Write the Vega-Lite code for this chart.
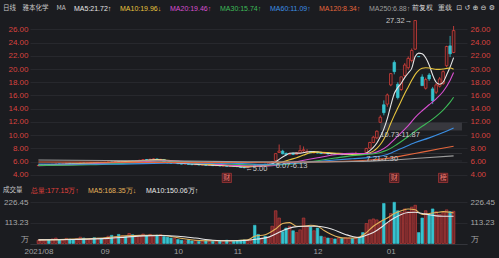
{
  "$schema": "https://vega.github.io/schema/vega-lite/v6.json",
  "width": 437,
  "height": 244,
  "autosize": {"type": "none"},
  "padding": {"left": 30, "right": 32, "top": 0, "bottom": 14},
  "background": "#1b1c20",
  "config": {
    "view": {"stroke": null},
    "font": "Liberation Sans",
    "axis": {"domain": false, "ticks": false, "labelFontSize": 8, "labelOverlap": false, "labelBound": false, "labelFont": "Liberation Sans", "gridColor": "#2b2c31", "gridWidth": 0.8},
    "legend": {"labelFont": "Liberation Sans", "titleFont": "Noto Sans CJK SC"}
  },
  "title": {"text": "前复权\u00a0\u00a0重载\u00a0\u00a0⊡\u00a0↺\u00a0⊕\u00a0⊖\u00a0⚙", "anchor": "end", "frame": "group", "dx": 28, "orient": "top", "offset": -15, "baseline": "middle", "fontSize": 7, "fontWeight": "normal", "color": "#d6d6d6", "font": "DejaVu Sans"},
  "datasets": {
    "kd": [
      {"k":0,"o":5.40,"h":5.50,"l":5.36,"c":5.45,"v":18},
      {"k":1,"o":5.45,"h":5.55,"l":5.42,"c":5.50,"v":22},
      {"k":2,"o":5.50,"h":5.60,"l":5.46,"c":5.55,"v":15},
      {"k":3,"o":5.56,"h":5.58,"l":5.47,"c":5.50,"v":20},
      {"k":4,"o":5.50,"h":5.66,"l":5.48,"c":5.62,"v":25},
      {"k":5,"o":5.62,"h":5.72,"l":5.58,"c":5.66,"v":30},
      {"k":6,"o":5.66,"h":5.68,"l":5.56,"c":5.60,"v":22},
      {"k":7,"o":5.60,"h":5.74,"l":5.58,"c":5.70,"v":18},
      {"k":8,"o":5.70,"h":5.80,"l":5.66,"c":5.76,"v":28},
      {"k":9,"o":5.76,"h":5.78,"l":5.66,"c":5.70,"v":24},
      {"k":10,"o":5.70,"h":5.72,"l":5.62,"c":5.65,"v":20},
      {"k":11,"o":5.65,"h":5.76,"l":5.63,"c":5.72,"v":26},
      {"k":12,"o":5.72,"h":5.88,"l":5.70,"c":5.82,"v":35},
      {"k":13,"o":5.82,"h":5.84,"l":5.72,"c":5.75,"v":30},
      {"k":14,"o":5.75,"h":5.84,"l":5.73,"c":5.80,"v":22},
      {"k":15,"o":5.80,"h":5.90,"l":5.78,"c":5.86,"v":25},
      {"k":16,"o":5.86,"h":5.88,"l":5.76,"c":5.80,"v":32},
      {"k":17,"o":5.80,"h":5.95,"l":5.78,"c":5.90,"v":28},
      {"k":18,"o":5.90,"h":5.93,"l":5.82,"c":5.85,"v":24},
      {"k":19,"o":5.85,"h":5.96,"l":5.83,"c":5.92,"v":30},
      {"k":20,"o":5.92,"h":6.02,"l":5.88,"c":5.96,"v":40},
      {"k":21,"o":5.96,"h":5.99,"l":5.86,"c":5.90,"v":45},
      {"k":22,"o":5.90,"h":6.06,"l":5.88,"c":6.02,"v":35},
      {"k":23,"o":6.02,"h":6.04,"l":5.92,"c":5.95,"v":50},
      {"k":24,"o":5.95,"h":6.10,"l":5.93,"c":6.06,"v":42},
      {"k":25,"o":6.06,"h":6.08,"l":5.96,"c":6.00,"v":38},
      {"k":26,"o":6.00,"h":6.18,"l":5.98,"c":6.12,"v":55},
      {"k":27,"o":6.12,"h":6.15,"l":6.02,"c":6.06,"v":48},
      {"k":28,"o":6.06,"h":6.20,"l":6.04,"c":6.16,"v":40},
      {"k":29,"o":6.16,"h":6.28,"l":6.12,"c":6.22,"v":45},
      {"k":30,"o":6.22,"h":6.40,"l":6.20,"c":6.32,"v":52},
      {"k":31,"o":6.32,"h":6.36,"l":6.22,"c":6.26,"v":44},
      {"k":32,"o":6.26,"h":6.45,"l":6.24,"c":6.36,"v":50},
      {"k":33,"o":6.36,"h":6.50,"l":6.32,"c":6.42,"v":40},
      {"k":34,"o":6.42,"h":6.46,"l":6.26,"c":6.30,"v":46},
      {"k":35,"o":6.30,"h":6.42,"l":6.28,"c":6.36,"v":48},
      {"k":36,"o":6.30,"h":6.32,"l":5.84,"c":5.88,"v":38},
      {"k":37,"o":5.88,"h":5.92,"l":5.76,"c":5.80,"v":35},
      {"k":38,"o":5.82,"h":5.84,"l":5.70,"c":5.75,"v":30},
      {"k":39,"o":5.75,"h":5.86,"l":5.73,"c":5.82,"v":28},
      {"k":40,"o":5.80,"h":5.82,"l":5.66,"c":5.70,"v":22},
      {"k":41,"o":5.70,"h":5.72,"l":5.60,"c":5.64,"v":18},
      {"k":42,"o":5.64,"h":5.74,"l":5.62,"c":5.70,"v":15},
      {"k":43,"o":5.70,"h":5.71,"l":5.56,"c":5.60,"v":20},
      {"k":44,"o":5.60,"h":5.62,"l":5.50,"c":5.54,"v":14},
      {"k":45,"o":5.54,"h":5.64,"l":5.52,"c":5.60,"v":16},
      {"k":46,"o":5.60,"h":5.61,"l":5.46,"c":5.50,"v":12},
      {"k":47,"o":5.50,"h":5.58,"l":5.48,"c":5.55,"v":15},
      {"k":48,"o":5.55,"h":5.56,"l":5.42,"c":5.45,"v":18},
      {"k":49,"o":5.45,"h":5.54,"l":5.43,"c":5.50,"v":14},
      {"k":50,"o":5.50,"h":5.51,"l":5.36,"c":5.40,"v":12},
      {"k":51,"o":5.40,"h":5.48,"l":5.38,"c":5.45,"v":16},
      {"k":52,"o":5.45,"h":5.46,"l":5.32,"c":5.35,"v":13},
      {"k":53,"o":5.35,"h":5.44,"l":5.33,"c":5.40,"v":15},
      {"k":54,"o":5.40,"h":5.41,"l":5.27,"c":5.30,"v":18},
      {"k":55,"o":5.30,"h":5.38,"l":5.28,"c":5.35,"v":14},
      {"k":56,"o":5.35,"h":5.36,"l":5.26,"c":5.30,"v":12},
      {"k":57,"o":5.30,"h":5.32,"l":5.20,"c":5.24,"v":15},
      {"k":58,"o":5.24,"h":5.26,"l":5.10,"c":5.14,"v":18},
      {"k":59,"o":5.14,"h":5.18,"l":5.00,"c":5.10,"v":20},
      {"k":60,"o":5.10,"h":5.36,"l":5.08,"c":5.30,"v":15},
      {"k":61,"o":5.30,"h":5.50,"l":5.28,"c":5.45,"v":18},
      {"k":62,"o":5.50,"h":5.62,"l":5.40,"c":5.44,"v":100},
      {"k":63,"o":5.46,"h":5.50,"l":5.36,"c":5.40,"v":50},
      {"k":64,"o":5.42,"h":5.62,"l":5.40,"c":5.58,"v":30},
      {"k":65,"o":5.62,"h":5.66,"l":5.50,"c":5.55,"v":40},
      {"k":66,"o":5.56,"h":5.82,"l":5.54,"c":5.78,"v":35},
      {"k":67,"o":5.80,"h":6.07,"l":5.76,"c":6.02,"v":95},
      {"k":68,"o":6.18,"h":7.22,"l":6.13,"c":7.22,"v":180},
      {"k":69,"o":7.40,"h":8.60,"l":7.30,"c":7.60,"v":140},
      {"k":70,"o":7.60,"h":7.80,"l":7.10,"c":7.20,"v":65},
      {"k":71,"o":7.25,"h":7.40,"l":6.95,"c":7.05,"v":85},
      {"k":72,"o":7.05,"h":7.32,"l":7.00,"c":7.25,"v":95},
      {"k":73,"o":7.28,"h":7.35,"l":7.00,"c":7.10,"v":70},
      {"k":74,"o":7.10,"h":7.40,"l":7.05,"c":7.35,"v":60},
      {"k":75,"o":7.35,"h":8.50,"l":7.30,"c":7.70,"v":75},
      {"k":76,"o":7.65,"h":8.30,"l":7.50,"c":7.80,"v":140},
      {"k":77,"o":7.45,"h":7.90,"l":7.40,"c":7.55,"v":95},
      {"k":78,"o":7.55,"h":7.60,"l":7.30,"c":7.35,"v":90},
      {"k":79,"o":7.35,"h":7.50,"l":7.25,"c":7.45,"v":70},
      {"k":80,"o":7.45,"h":7.50,"l":7.25,"c":7.30,"v":85},
      {"k":81,"o":7.30,"h":7.38,"l":7.18,"c":7.22,"v":40},
      {"k":82,"o":7.22,"h":7.36,"l":7.20,"c":7.32,"v":35},
      {"k":83,"o":7.32,"h":7.34,"l":7.12,"c":7.16,"v":30},
      {"k":84,"o":7.16,"h":7.26,"l":7.10,"c":7.22,"v":28},
      {"k":85,"o":7.22,"h":7.24,"l":7.06,"c":7.10,"v":25},
      {"k":86,"o":7.10,"h":7.20,"l":7.06,"c":7.16,"v":30},
      {"k":87,"o":7.16,"h":7.18,"l":7.02,"c":7.06,"v":28},
      {"k":88,"o":7.06,"h":7.14,"l":7.02,"c":7.12,"v":32},
      {"k":89,"o":7.12,"h":7.20,"l":7.08,"c":7.16,"v":30},
      {"k":90,"o":7.16,"h":7.18,"l":7.06,"c":7.10,"v":28},
      {"k":91,"o":7.10,"h":7.50,"l":7.05,"c":7.20,"v":35},
      {"k":92,"o":7.20,"h":7.24,"l":7.10,"c":7.14,"v":32},
      {"k":93,"o":7.18,"h":7.21,"l":7.08,"c":7.12,"v":60},
      {"k":94,"o":7.30,"h":8.10,"l":7.30,"c":8.00,"v":110},
      {"k":95,"o":8.05,"h":9.00,"l":8.00,"c":8.90,"v":130},
      {"k":96,"o":8.90,"h":9.90,"l":8.80,"c":9.70,"v":135},
      {"k":97,"o":9.60,"h":10.73,"l":9.40,"c":10.60,"v":130},
      {"k":98,"o":11.95,"h":13.00,"l":11.87,"c":12.72,"v":120},
      {"k":99,"o":14.60,"h":15.26,"l":13.00,"c":13.40,"v":220},
      {"k":100,"o":14.70,"h":16.30,"l":14.30,"c":16.08,"v":110},
      {"k":101,"o":17.60,"h":19.40,"l":17.40,"c":19.30,"v":165},
      {"k":102,"o":21.00,"h":21.30,"l":19.20,"c":19.60,"v":226.45},
      {"k":103,"o":17.70,"h":18.00,"l":15.40,"c":15.68,"v":180},
      {"k":104,"o":16.90,"h":18.82,"l":16.70,"c":18.82,"v":170},
      {"k":105,"o":19.00,"h":20.90,"l":18.80,"c":20.60,"v":190},
      {"k":106,"o":20.20,"h":21.90,"l":19.90,"c":21.60,"v":175},
      {"k":107,"o":21.30,"h":23.10,"l":21.00,"c":22.80,"v":200},
      {"k":108,"o":23.00,"h":27.32,"l":22.90,"c":27.32,"v":210},
      {"k":109,"o":21.90,"h":21.90,"l":21.86,"c":21.86,"v":60},
      {"k":110,"o":18.80,"h":19.20,"l":17.49,"c":17.49,"v":140},
      {"k":111,"o":17.10,"h":18.70,"l":16.90,"c":18.40,"v":180},
      {"k":112,"o":19.10,"h":19.40,"l":18.20,"c":18.50,"v":160},
      {"k":113,"o":17.00,"h":17.30,"l":14.70,"c":15.20,"v":190},
      {"k":114,"o":16.50,"h":17.90,"l":16.20,"c":17.60,"v":175},
      {"k":115,"o":17.40,"h":18.80,"l":17.20,"c":18.50,"v":160},
      {"k":116,"o":17.80,"h":19.80,"l":17.60,"c":19.60,"v":170},
      {"k":117,"o":20.50,"h":23.52,"l":20.30,"c":23.40,"v":185},
      {"k":118,"o":23.50,"h":25.00,"l":21.80,"c":22.30,"v":175},
      {"k":119,"o":22.50,"h":26.50,"l":22.40,"c":25.80,"v":177.15}
    ],
    "ma": [
      {"k":0,"ma":"MA5","v":5.50},{"k":4,"ma":"MA5","v":5.55},{"k":8,"ma":"MA5","v":5.66},{"k":12,"ma":"MA5","v":5.72},{"k":16,"ma":"MA5","v":5.81},{"k":20,"ma":"MA5","v":5.89},{"k":24,"ma":"MA5","v":5.98},{"k":28,"ma":"MA5","v":6.08},{"k":31,"ma":"MA5","v":6.22},{"k":34,"ma":"MA5","v":6.33},{"k":36,"ma":"MA5","v":6.25},{"k":38,"ma":"MA5","v":6.00},{"k":40,"ma":"MA5","v":5.79},{"k":43,"ma":"MA5","v":5.69},{"k":46,"ma":"MA5","v":5.58},{"k":50,"ma":"MA5","v":5.48},{"k":54,"ma":"MA5","v":5.38},{"k":57,"ma":"MA5","v":5.30},{"k":59,"ma":"MA5","v":5.20},{"k":61,"ma":"MA5","v":5.24},{"k":63,"ma":"MA5","v":5.35},{"k":65,"ma":"MA5","v":5.48},{"k":67,"ma":"MA5","v":5.67},{"k":68,"ma":"MA5","v":5.95},{"k":69,"ma":"MA5","v":6.35},{"k":70,"ma":"MA5","v":6.70},{"k":71,"ma":"MA5","v":7.00},{"k":72,"ma":"MA5","v":7.28},{"k":73,"ma":"MA5","v":7.32},{"k":75,"ma":"MA5","v":7.28},{"k":77,"ma":"MA5","v":7.47},{"k":79,"ma":"MA5","v":7.54},{"k":81,"ma":"MA5","v":7.41},{"k":83,"ma":"MA5","v":7.27},{"k":85,"ma":"MA5","v":7.20},{"k":87,"ma":"MA5","v":7.15},{"k":89,"ma":"MA5","v":7.12},{"k":91,"ma":"MA5","v":7.15},{"k":93,"ma":"MA5","v":7.15},{"k":94,"ma":"MA5","v":7.32},{"k":95,"ma":"MA5","v":7.68},{"k":96,"ma":"MA5","v":8.16},{"k":97,"ma":"MA5","v":8.83},{"k":98,"ma":"MA5","v":9.78},{"k":99,"ma":"MA5","v":10.92},{"k":100,"ma":"MA5","v":12.50},{"k":101,"ma":"MA5","v":14.50},{"k":102,"ma":"MA5","v":16.30},{"k":103,"ma":"MA5","v":17.20},{"k":104,"ma":"MA5","v":17.85},{"k":105,"ma":"MA5","v":18.70},{"k":106,"ma":"MA5","v":19.40},{"k":107,"ma":"MA5","v":20.10},{"k":108,"ma":"MA5","v":21.90},{"k":109,"ma":"MA5","v":22.40},{"k":110,"ma":"MA5","v":22.30},{"k":111,"ma":"MA5","v":21.70},{"k":112,"ma":"MA5","v":20.60},{"k":113,"ma":"MA5","v":19.10},{"k":114,"ma":"MA5","v":18.00},{"k":115,"ma":"MA5","v":17.70},{"k":116,"ma":"MA5","v":18.00},{"k":117,"ma":"MA5","v":19.10},{"k":118,"ma":"MA5","v":20.30},{"k":119,"ma":"MA5","v":21.72},
      {"k":0,"ma":"MA10","v":5.47},{"k":5,"ma":"MA10","v":5.55},{"k":10,"ma":"MA10","v":5.64},{"k":15,"ma":"MA10","v":5.74},{"k":20,"ma":"MA10","v":5.84},{"k":25,"ma":"MA10","v":5.96},{"k":30,"ma":"MA10","v":6.12},{"k":34,"ma":"MA10","v":6.25},{"k":37,"ma":"MA10","v":6.20},{"k":40,"ma":"MA10","v":6.05},{"k":43,"ma":"MA10","v":5.88},{"k":46,"ma":"MA10","v":5.70},{"k":50,"ma":"MA10","v":5.58},{"k":55,"ma":"MA10","v":5.43},{"k":59,"ma":"MA10","v":5.30},{"k":62,"ma":"MA10","v":5.28},{"k":65,"ma":"MA10","v":5.35},{"k":68,"ma":"MA10","v":5.62},{"k":70,"ma":"MA10","v":5.95},{"k":72,"ma":"MA10","v":6.30},{"k":74,"ma":"MA10","v":6.60},{"k":76,"ma":"MA10","v":7.00},{"k":78,"ma":"MA10","v":7.35},{"k":80,"ma":"MA10","v":7.45},{"k":83,"ma":"MA10","v":7.38},{"k":86,"ma":"MA10","v":7.26},{"k":89,"ma":"MA10","v":7.18},{"k":92,"ma":"MA10","v":7.15},{"k":94,"ma":"MA10","v":7.22},{"k":96,"ma":"MA10","v":7.60},{"k":97,"ma":"MA10","v":8.00},{"k":98,"ma":"MA10","v":8.60},{"k":99,"ma":"MA10","v":9.40},{"k":100,"ma":"MA10","v":10.50},{"k":101,"ma":"MA10","v":11.80},{"k":102,"ma":"MA10","v":13.00},{"k":103,"ma":"MA10","v":14.10},{"k":104,"ma":"MA10","v":15.20},{"k":105,"ma":"MA10","v":16.30},{"k":106,"ma":"MA10","v":17.30},{"k":107,"ma":"MA10","v":18.30},{"k":108,"ma":"MA10","v":19.20},{"k":109,"ma":"MA10","v":19.80},{"k":110,"ma":"MA10","v":20.10},{"k":111,"ma":"MA10","v":20.20},{"k":112,"ma":"MA10","v":20.15},{"k":113,"ma":"MA10","v":20.05},{"k":114,"ma":"MA10","v":19.95},{"k":115,"ma":"MA10","v":19.95},{"k":116,"ma":"MA10","v":20.00},{"k":117,"ma":"MA10","v":20.10},{"k":118,"ma":"MA10","v":20.15},{"k":119,"ma":"MA10","v":19.96},
      {"k":0,"ma":"MA20","v":5.40},{"k":10,"ma":"MA20","v":5.55},{"k":20,"ma":"MA20","v":5.75},{"k":30,"ma":"MA20","v":5.98},{"k":36,"ma":"MA20","v":6.15},{"k":40,"ma":"MA20","v":6.08},{"k":45,"ma":"MA20","v":5.90},{"k":50,"ma":"MA20","v":5.68},{"k":55,"ma":"MA20","v":5.48},{"k":60,"ma":"MA20","v":5.38},{"k":65,"ma":"MA20","v":5.36},{"k":70,"ma":"MA20","v":5.62},{"k":75,"ma":"MA20","v":6.10},{"k":80,"ma":"MA20","v":6.60},{"k":85,"ma":"MA20","v":7.05},{"k":90,"ma":"MA20","v":7.25},{"k":94,"ma":"MA20","v":7.22},{"k":96,"ma":"MA20","v":7.32},{"k":98,"ma":"MA20","v":7.70},{"k":100,"ma":"MA20","v":8.35},{"k":102,"ma":"MA20","v":9.35},{"k":104,"ma":"MA20","v":10.40},{"k":106,"ma":"MA20","v":11.45},{"k":108,"ma":"MA20","v":12.70},{"k":110,"ma":"MA20","v":13.70},{"k":112,"ma":"MA20","v":14.60},{"k":114,"ma":"MA20","v":15.50},{"k":116,"ma":"MA20","v":16.60},{"k":118,"ma":"MA20","v":18.30},{"k":119,"ma":"MA20","v":19.46},
      {"k":0,"ma":"MA30","v":5.45},{"k":15,"ma":"MA30","v":5.55},{"k":30,"ma":"MA30","v":5.85},{"k":40,"ma":"MA30","v":5.98},{"k":50,"ma":"MA30","v":5.80},{"k":60,"ma":"MA30","v":5.55},{"k":70,"ma":"MA30","v":5.55},{"k":75,"ma":"MA30","v":5.80},{"k":80,"ma":"MA30","v":6.15},{"k":85,"ma":"MA30","v":6.55},{"k":90,"ma":"MA30","v":6.92},{"k":94,"ma":"MA30","v":7.08},{"k":98,"ma":"MA30","v":7.40},{"k":100,"ma":"MA30","v":7.75},{"k":102,"ma":"MA30","v":8.35},{"k":104,"ma":"MA30","v":9.05},{"k":106,"ma":"MA30","v":9.80},{"k":108,"ma":"MA30","v":10.60},{"k":110,"ma":"MA30","v":11.35},{"k":112,"ma":"MA30","v":12.05},{"k":114,"ma":"MA30","v":12.85},{"k":116,"ma":"MA30","v":13.80},{"k":118,"ma":"MA30","v":15.00},{"k":119,"ma":"MA30","v":15.74},
      {"k":0,"ma":"MA60","v":5.65},{"k":20,"ma":"MA60","v":5.62},{"k":40,"ma":"MA60","v":5.80},{"k":55,"ma":"MA60","v":5.78},{"k":65,"ma":"MA60","v":5.62},{"k":75,"ma":"MA60","v":5.80},{"k":85,"ma":"MA60","v":6.25},{"k":90,"ma":"MA60","v":6.45},{"k":95,"ma":"MA60","v":6.65},{"k":100,"ma":"MA60","v":7.10},{"k":104,"ma":"MA60","v":8.00},{"k":108,"ma":"MA60","v":8.90},{"k":112,"ma":"MA60","v":9.60},{"k":116,"ma":"MA60","v":10.40},{"k":119,"ma":"MA60","v":11.09},
      {"k":0,"ma":"MA120","v":5.95},{"k":30,"ma":"MA120","v":5.90},{"k":60,"ma":"MA120","v":5.88},{"k":80,"ma":"MA120","v":5.95},{"k":90,"ma":"MA120","v":6.10},{"k":95,"ma":"MA120","v":6.25},{"k":100,"ma":"MA120","v":6.50},{"k":105,"ma":"MA120","v":6.95},{"k":110,"ma":"MA120","v":7.45},{"k":115,"ma":"MA120","v":7.95},{"k":119,"ma":"MA120","v":8.34},
      {"k":0,"ma":"MA250","v":6.25},{"k":30,"ma":"MA250","v":6.15},{"k":60,"ma":"MA250","v":6.00},{"k":80,"ma":"MA250","v":5.95},{"k":90,"ma":"MA250","v":6.02},{"k":100,"ma":"MA250","v":6.20},{"k":110,"ma":"MA250","v":6.55},{"k":119,"ma":"MA250","v":6.88}
    ],
    "vma": [
      {"k":0,"vma":"MA5","v":20},{"k":10,"vma":"MA5","v":24},{"k":20,"vma":"MA5","v":33},{"k":25,"vma":"MA5","v":43},{"k":30,"vma":"MA5","v":45},{"k":35,"vma":"MA5","v":45},{"k":40,"vma":"MA5","v":32},{"k":45,"vma":"MA5","v":18},{"k":50,"vma":"MA5","v":15},{"k":55,"vma":"MA5","v":15},{"k":58,"vma":"MA5","v":18},{"k":60,"vma":"MA5","v":20},{"k":62,"vma":"MA5","v":40},{"k":65,"vma":"MA5","v":48},{"k":68,"vma":"MA5","v":80},{"k":70,"vma":"MA5","v":110},{"k":72,"vma":"MA5","v":115},{"k":74,"vma":"MA5","v":95},{"k":76,"vma":"MA5","v":95},{"k":78,"vma":"MA5","v":100},{"k":80,"vma":"MA5","v":95},{"k":82,"vma":"MA5","v":70},{"k":84,"vma":"MA5","v":50},{"k":86,"vma":"MA5","v":35},{"k":88,"vma":"MA5","v":30},{"k":90,"vma":"MA5","v":30},{"k":92,"vma":"MA5","v":35},{"k":94,"vma":"MA5","v":60},{"k":96,"vma":"MA5","v":95},{"k":98,"vma":"MA5","v":120},{"k":100,"vma":"MA5","v":140},{"k":102,"vma":"MA5","v":165},{"k":104,"vma":"MA5","v":180},{"k":106,"vma":"MA5","v":190},{"k":108,"vma":"MA5","v":185},{"k":110,"vma":"MA5","v":160},{"k":112,"vma":"MA5","v":165},{"k":114,"vma":"MA5","v":170},{"k":116,"vma":"MA5","v":175},{"k":118,"vma":"MA5","v":172},{"k":119,"vma":"MA5","v":168.35},
      {"k":0,"vma":"MA10","v":20},{"k":10,"vma":"MA10","v":22},{"k":20,"vma":"MA10","v":28},{"k":25,"vma":"MA10","v":35},{"k":30,"vma":"MA10","v":42},{"k":35,"vma":"MA10","v":44},{"k":40,"vma":"MA10","v":40},{"k":45,"vma":"MA10","v":30},{"k":50,"vma":"MA10","v":18},{"k":55,"vma":"MA10","v":15},{"k":60,"vma":"MA10","v":18},{"k":63,"vma":"MA10","v":25},{"k":66,"vma":"MA10","v":35},{"k":70,"vma":"MA10","v":70},{"k":73,"vma":"MA10","v":90},{"k":76,"vma":"MA10","v":95},{"k":80,"vma":"MA10","v":95},{"k":84,"vma":"MA10","v":80},{"k":88,"vma":"MA10","v":50},{"k":90,"vma":"MA10","v":38},{"k":92,"vma":"MA10","v":33},{"k":94,"vma":"MA10","v":45},{"k":96,"vma":"MA10","v":60},{"k":98,"vma":"MA10","v":85},{"k":100,"vma":"MA10","v":115},{"k":102,"vma":"MA10","v":140},{"k":104,"vma":"MA10","v":160},{"k":106,"vma":"MA10","v":170},{"k":108,"vma":"MA10","v":172},{"k":110,"vma":"MA10","v":165},{"k":112,"vma":"MA10","v":158},{"k":114,"vma":"MA10","v":152},{"k":116,"vma":"MA10","v":150},{"k":119,"vma":"MA10","v":150.06}
    ],
    "gaps": [
      {"k":68,"k2":121.4,"lo":6.07,"hi":6.13,"label":"6.07-6.13"},
      {"k":94,"k2":121.4,"lo":7.21,"hi":7.30,"label":"7.21-7.30"},
      {"k":98,"k2":121.4,"lo":10.73,"hi":11.87,"label":"10.73-11.87"}
    ],
    "peak": [{"k":108,"p":27.32,"label":"27.32→"}],
    "low": [{"k":59,"p":5.00,"label":"←5.00"}],
    "ev": [{"k":54,"t":"财"},{"k":102,"t":"财"},{"k":116,"t":"榜"}]
  },
  "encoding": {
    "x": {"field": "k", "type": "quantitative", "title": null,
      "scale": {"domain": [-0.98, 121.41], "nice": false, "zero": false},
      "axis": {"values": [0, 19, 40, 57, 80, 101], "labelExpr": "datum.value == 0 ? '2021/08' : datum.value == 19 ? '09' : datum.value == 40 ? '10' : datum.value == 57 ? '11' : datum.value == 80 ? '12' : '01'", "grid": false, "domain": true, "domainColor": "#34353b", "ticks": false, "labelColor": "#a0a0a0", "labelFontSize": 8, "labelPadding": 3, "labelFlush": false}}
  },
  "layer": [
    {
      "layer": [
        {
          "data": {"name": "gaps"},
          "mark": {"type": "rect", "color": "#a0a0a8", "opacity": 0.22},
          "encoding": {
            "x2": {"field": "k2"},
            "y": {"field": "lo", "type": "quantitative", "scale": {"domain": [3, 28.3], "range": [181.56, 14.07], "nice": false, "zero": false}, "axis": null},
            "y2": {"field": "hi"}
          }
        },
        {
          "data": {"name": "kd"},
          "mark": {"type": "rule", "strokeWidth": 0.8},
          "encoding": {
            "y": {"field": "l", "type": "quantitative", "title": null, "scale": {"domain": [3, 28.3], "range": [181.56, 14.07], "nice": false, "zero": false},
              "axis": {"orient": "left", "values": [4,6,8,10,12,14,16,18,20,22,24,26], "format": ".2f", "grid": true, "labelColor": "#d8433f", "labelFontSize": 8, "labelPadding": 2}},
            "y2": {"field": "h"},
            "color": {"condition": {"test": "datum.c >= datum.o", "value": "#e5433e"}, "value": "#36c3cf"}
          }
        },
        {
          "data": {"name": "kd"},
          "mark": {"type": "bar", "width": 2.6, "strokeWidth": 0.7},
          "encoding": {
            "y": {"field": "o", "type": "quantitative", "title": null, "scale": {"domain": [3, 28.3], "range": [181.56, 14.07], "nice": false, "zero": false},
              "axis": {"orient": "right", "values": [4,6,8,10,12,14,16,18,20,22,24,26], "format": ".2f", "grid": false, "labelColor": "#d8433f", "labelFontSize": 8, "labelPadding": 3}},
            "y2": {"field": "c"},
            "fill": {"condition": {"test": "datum.c >= datum.o", "value": "#2c1a1d"}, "value": "#36c3cf"},
            "stroke": {"condition": {"test": "datum.c >= datum.o", "value": "#e5433e"}, "value": "#36c3cf"}
          }
        },
        {
          "data": {"name": "ma"},
          "mark": {"type": "line", "strokeWidth": 1.1, "interpolate": "monotone"},
          "encoding": {
            "y": {"field": "v", "type": "quantitative", "scale": {"domain": [3, 28.3], "range": [181.56, 14.07], "nice": false, "zero": false}, "axis": null},
            "stroke": {"field": "ma", "type": "nominal",
              "scale": {"domain": ["MA5","MA10","MA20","MA30","MA60","MA120","MA250"], "range": ["#e6e6e6","#e8c53e","#d84fd0","#3dbb58","#3b8fe4","#e4663c","#9c9c9c"]},
              "legend": {"orient": "none", "legendX": -27, "legendY": 5, "direction": "horizontal", "columns": 7, "columnPadding": 7, "title": "日线\u3000雅本化学\u3000\u00a0MA", "titleOrient": "left", "titlePadding": 7, "titleColor": "#c8c8c8", "titleFontSize": 6.5, "titleFontWeight": "normal", "labelFontSize": 7, "symbolSize": 0, "symbolOpacity": 0, "symbolStrokeWidth": 0, "labelOffset": -6, "padding": 0,
                "labelExpr": "datum.label == 'MA5' ? 'MA5:21.72↑' : datum.label == 'MA10' ? 'MA10:19.96↓' : datum.label == 'MA20' ? 'MA20:19.46↑' : datum.label == 'MA30' ? 'MA30:15.74↑' : datum.label == 'MA60' ? 'MA60:11.09↑' : datum.label == 'MA120' ? 'MA120:8.34↑' : 'MA250:6.88↑'",
                "encode": {"labels": {"update": {"fill": {"scale": "stroke", "field": "value"}}}}}
            }
          }
        },
        {
          "data": {"name": "gaps"},
          "mark": {"type": "text", "align": "left", "baseline": "top", "dy": 1, "fontSize": 7.5, "color": "#c8c8c8"},
          "encoding": {
            "y": {"field": "lo", "type": "quantitative", "scale": {"domain": [3, 28.3], "range": [181.56, 14.07], "nice": false, "zero": false}, "axis": null},
            "text": {"field": "label"}
          }
        },
        {
          "data": {"name": "peak"},
          "mark": {"type": "text", "align": "right", "baseline": "middle", "dx": -3, "fontSize": 7.5, "color": "#c8c8c8"},
          "encoding": {
            "y": {"field": "p", "type": "quantitative", "scale": {"domain": [3, 28.3], "range": [181.56, 14.07], "nice": false, "zero": false}, "axis": null},
            "text": {"field": "label"}
          }
        },
        {
          "data": {"name": "low"},
          "mark": {"type": "text", "align": "left", "baseline": "middle", "dx": 1, "dy": 1, "fontSize": 7.5, "color": "#c8c8c8"},
          "encoding": {
            "y": {"field": "p", "type": "quantitative", "scale": {"domain": [3, 28.3], "range": [181.56, 14.07], "nice": false, "zero": false}, "axis": null},
            "text": {"field": "label"}
          }
        },
        {
          "data": {"name": "ev"},
          "mark": {"type": "point", "shape": "square", "size": 85, "filled": true, "fill": "#4b1e22", "stroke": "#b03a3a", "strokeWidth": 0.7, "opacity": 1},
          "encoding": {
            "y": {"datum": 3.55, "type": "quantitative", "scale": {"domain": [3, 28.3], "range": [181.56, 14.07], "nice": false, "zero": false}, "axis": null}
          }
        },
        {
          "data": {"name": "ev"},
          "mark": {"type": "text", "align": "center", "baseline": "middle", "fontSize": 7, "color": "#f07a70", "font": "Noto Sans CJK SC"},
          "encoding": {
            "y": {"datum": 3.55, "type": "quantitative", "scale": {"domain": [3, 28.3], "range": [181.56, 14.07], "nice": false, "zero": false}, "axis": null},
            "text": {"field": "t"}
          }
        }
      ],
      "resolve": {"axis": {"y": "independent"}}
    },
    {
      "layer": [
        {
          "data": {"name": "kd"},
          "mark": {"type": "bar", "width": 2.6, "strokeWidth": 0.6},
          "encoding": {
            "y": {"field": "v", "type": "quantitative", "title": null, "scale": {"domain": [0, 226.45], "range": [243.5, 202.3], "nice": false, "zero": false},
              "axis": {"orient": "left", "values": [0, 113.23, 226.45], "labelExpr": "datum.value == 0 ? '万' : format(datum.value, '.2f')", "labelBaseline": {"condition": {"test": "datum.value == 0", "value": "bottom"}, "value": "middle"}, "grid": true, "labelColor": "#a8a8a8", "labelFontSize": 8, "labelPadding": 2}},
            "fill": {"condition": {"test": "datum.c >= datum.o", "value": "#6e2629"}, "value": "#36c3cf"},
            "stroke": {"condition": {"test": "datum.c >= datum.o", "value": "#c8403c"}, "value": "#36c3cf"}
          }
        },
        {
          "data": {"name": "vma"},
          "mark": {"type": "line", "strokeWidth": 1.1, "interpolate": "monotone"},
          "encoding": {
            "y": {"field": "v", "type": "quantitative", "title": null, "scale": {"domain": [0, 226.45], "range": [243.5, 202.3], "nice": false, "zero": false},
              "axis": {"orient": "right", "values": [0, 113.23, 226.45], "labelExpr": "datum.value == 0 ? '万' : format(datum.value, '.2f')", "labelBaseline": {"condition": {"test": "datum.value == 0", "value": "bottom"}, "value": "middle"}, "grid": false, "labelColor": "#a8a8a8", "labelFontSize": 8, "labelPadding": 3}},
            "color": {"field": "vma", "type": "nominal",
              "scale": {"domain": ["总量","MA5","MA10"], "range": ["#e5433e","#e3b25a","#e8e8e8"]},
              "legend": {"orient": "none", "legendX": -27, "legendY": 187, "direction": "horizontal", "columns": 3, "columnPadding": 9, "title": "成交量", "titleOrient": "left", "titlePadding": 9, "titleColor": "#c8c8c8", "titleFontSize": 6.5, "titleFontWeight": "normal", "labelFontSize": 7, "symbolSize": 0, "symbolOpacity": 0, "symbolStrokeWidth": 0, "labelOffset": -8, "padding": 0,
                "labelExpr": "datum.label == '总量' ? '总量:177.15万↑' : datum.label == 'MA5' ? 'MA5:168.35万↓' : 'MA10:150.06万↑'",
                "encode": {"labels": {"update": {"fill": {"scale": "color", "field": "value"}}}}}
            }
          }
        }
      ],
      "resolve": {"axis": {"y": "independent"}}
    }
  ],
  "resolve": {"scale": {"y": "independent"}, "axis": {"y": "independent"}}
}
